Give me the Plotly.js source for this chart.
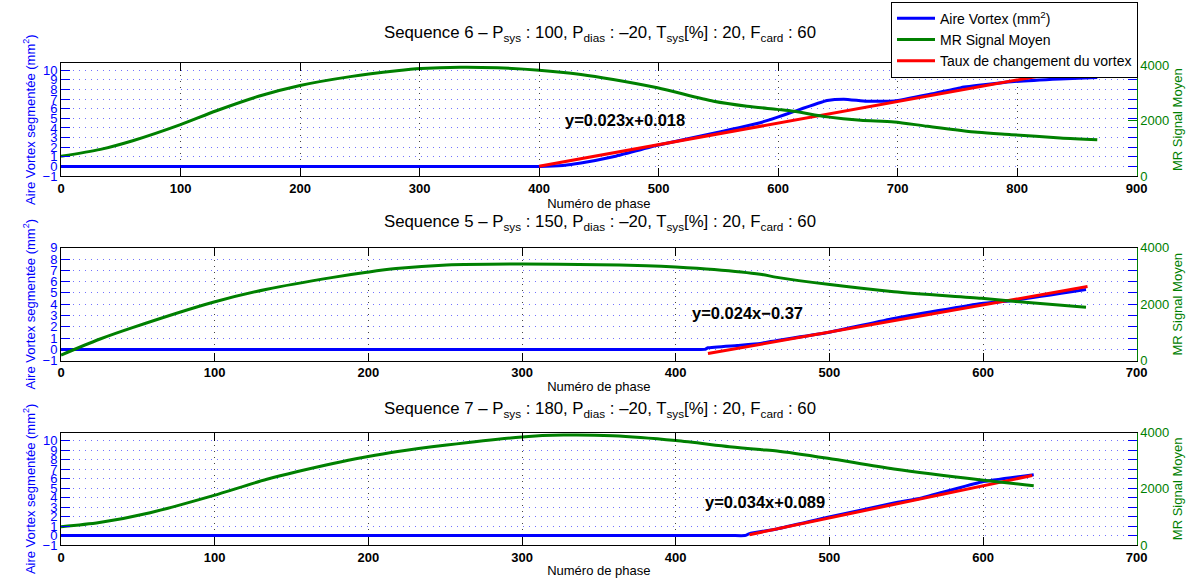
<!DOCTYPE html>
<html>
<head>
<meta charset="utf-8">
<script src="https://cdn.plot.ly/plotly-3.0.1.min.js"></script>
<style>html,body{margin:0;padding:0;background:#fff;}#chart{width:1191px;height:587px;}</style>
</head>
<body>
<div id="chart"></div>
<script>
// ---------- Data ----------
// Sequence 6 (top panel)
const seq6AreaX = [0, 390, 400, 420, 435, 462, 499, 546, 585, 599, 613, 641, 655, 674, 697, 725, 753, 795, 836, 867];
const seq6Area  = [0, 0, 0, 0.1, 0.35, 1.0, 2.2, 3.45, 4.55, 5.1, 5.7, 6.85, 7.0, 6.78, 6.8, 7.45, 8.2, 8.8, 9.1, 9.25];
const seq6SigX  = [0, 33, 60, 100, 130, 166, 200, 242, 281, 301, 334, 365, 400, 435, 462, 499, 546, 574, 599, 613, 641, 669, 697, 725, 767, 795, 836, 867];
const seq6Sig   = [707, 960, 1270, 1850, 2350, 2880, 3260, 3580, 3790, 3870, 3920, 3900, 3812, 3657, 3476, 3177, 2693, 2513, 2400, 2332, 2130, 2007, 1949, 1790, 1574, 1490, 1372, 1310];
const seq6FitX  = [400, 867];
const seq6Fit   = [0.018, 10.5];

// Sequence 5 (middle panel)
const seq5AreaX = [0, 410, 419, 421, 440, 455, 466, 499, 542, 599, 618, 667];
const seq5Area  = [0, 0, 0, 0.14, 0.35, 0.53, 0.8, 1.5, 2.74, 4.07, 4.3, 5.3];
const seq5SigX  = [0, 25, 47, 99, 134, 177, 199, 218, 251, 300, 350, 381, 400, 425, 455, 466, 499, 542, 599, 618, 667];
const seq5Sig   = [200, 760, 1180, 2070, 2530, 2950, 3130, 3260, 3388, 3423, 3400, 3365, 3320, 3230, 3060, 2950, 2704, 2443, 2209, 2113, 1890];
const seq5FitX  = [421, 668];
const seq5Fit   = [-0.37, 5.56];

// Sequence 7 (bottom panel)
const seq7AreaX = [0, 436, 445, 448, 466, 499, 542, 560, 599, 633];
const seq7Area  = [0, 0, 0, 0.2, 0.7, 1.93, 3.44, 3.97, 5.65, 6.42];
const seq7SigX  = [0, 25, 58, 99, 134, 177, 199, 218, 251, 300, 327, 359, 400, 435, 455, 466, 499, 542, 599, 633];
const seq7Sig   = [650, 800, 1150, 1760, 2340, 2900, 3140, 3320, 3560, 3850, 3915, 3890, 3720, 3501, 3400, 3350, 3088, 2707, 2315, 2113];
const seq7FitX  = [448, 632];
const seq7Fit   = [0.089, 6.35];

// Titles / labels
const panelTitles = [
  'Sequence 6 – P<sub>sys</sub> : 100, P<sub>dias</sub> : –20, T<sub>sys</sub>[%] : 20, F<sub>card</sub> : 60',
  'Sequence 5 – P<sub>sys</sub> : 150, P<sub>dias</sub> : –20, T<sub>sys</sub>[%] : 20, F<sub>card</sub> : 60',
  'Sequence 7 – P<sub>sys</sub> : 180, P<sub>dias</sub> : –20, T<sub>sys</sub>[%] : 20, F<sub>card</sub> : 60'
];
const fitLabels = ['y=0.023x+0.018', 'y=0.024x−0.37', 'y=0.034x+0.089'];
const fitLabelPos = [[472, 4.84], [447, 3.2], [458, 3.58]];
const seriesNames = ['Aire Vortex (mm<sup>2</sup>)', 'MR Signal Moyen', 'Taux de changement du vortex'];
const xTitle = 'Numéro de phase';
const yLeftTitle = 'Aire Vortex segmentée (mm<sup>2</sup>)';
const yRightTitle = 'MR Signal Moyen';
const leftTicks9 = [-1,0,1,2,3,4,5,6,7,8,9];
const leftTicks10 = [-1,0,1,2,3,4,5,6,7,8,9,10];
const rightTicks = [0, 2000, 4000];

// ---------- Styling ----------
const BLUE = '#0000ff', GREEN = '#008000', RED = '#ff0000';
const FONT = 'Liberation Sans, Arial, Helvetica, sans-serif';
const W = 1191, H = 587;
const xDom = [61 / W, 1136.7 / W];
const py = (top, bot) => [1 - bot / H, 1 - top / H];
const doms = [py(63.3, 176), py(247.7, 360.7), py(432.7, 545)];

const panels = [
  {ax: 'x', ly: 'y', ry: 'y2', by: 'y7', aX: seq6AreaX, a: seq6Area, sX: seq6SigX, s: seq6Sig, fX: seq6FitX, f: seq6Fit, leg: true},
  {ax: 'x2', ly: 'y3', ry: 'y4', by: 'y8', aX: seq5AreaX, a: seq5Area, sX: seq5SigX, s: seq5Sig, fX: seq5FitX, f: seq5Fit, leg: false},
  {ax: 'x3', ly: 'y5', ry: 'y6', by: 'y9', aX: seq7AreaX, a: seq7Area, sX: seq7SigX, s: seq7Sig, fX: seq7FitX, f: seq7Fit, leg: false}
];

const traces = [];
panels.forEach(p => {
  traces.push({x: p.aX, y: p.a, xaxis: p.ax, yaxis: p.ly, type: 'scatter', mode: 'lines', name: seriesNames[0],
    line: {color: BLUE, width: 3, shape: 'spline', smoothing: 0.4}, showlegend: p.leg, legendrank: 1});
  traces.push({x: p.sX, y: p.s, xaxis: p.ax, yaxis: p.ry, type: 'scatter', mode: 'lines', name: seriesNames[1],
    line: {color: GREEN, width: 3, shape: 'spline', smoothing: 0.8}, showlegend: p.leg, legendrank: 2});
  traces.push({x: p.fX, y: p.f, xaxis: p.ax, yaxis: p.ly, type: 'scatter', mode: 'lines', name: seriesNames[2],
    line: {color: RED, width: 3}, showlegend: p.leg, legendrank: 3});
  traces.push({x: [], y: [], xaxis: p.ax, yaxis: p.by, type: 'scatter', mode: 'lines', showlegend: false, hoverinfo: 'skip'});
});

function xAxis(anchor, maxX) {
  return {
    domain: xDom, anchor: anchor, range: [0, maxX], dtick: 100, tick0: 0,
    ticks: 'inside', ticklen: 8, tickcolor: '#000', tickwidth: 1,
    showline: true, linecolor: '#000', linewidth: 1, mirror: 'ticks',
    showgrid: true, gridcolor: '#444', griddash: '1px,5px', gridwidth: 1, zeroline: false,
    tickfont: {family: FONT, size: 13, color: '#000', weight: 'bold'},
    title: {text: xTitle, font: {family: FONT, size: 13, color: '#000'}, standoff: 2},
    fixedrange: true
  };
}
function yLeft(anchor, dom, range, ticks) {
  return {
    domain: dom, anchor: anchor, range: range, tickvals: ticks,
    ticks: 'inside', ticklen: 9, tickcolor: BLUE, tickwidth: 1,
    showline: true, linecolor: '#000', linewidth: 1,
    showgrid: true, gridcolor: '#7373ff', griddash: '1px,5px', gridwidth: 1, zeroline: false,
    tickfont: {family: FONT, size: 13, color: BLUE},
    title: {text: yLeftTitle, font: {family: FONT, size: 13, color: BLUE}, standoff: 4},
    fixedrange: true
  };
}
function yRight(over, anchor, range) {
  return {
    overlaying: over, side: 'right', anchor: anchor, range: range, tickvals: rightTicks,
    ticks: 'inside', ticklen: 9, tickcolor: GREEN, tickwidth: 1,
    showline: true, linecolor: GREEN, linewidth: 1,
    showgrid: false, zeroline: false,
    tickfont: {family: FONT, size: 13, color: GREEN},
    title: {text: yRightTitle, font: {family: FONT, size: 13, color: GREEN}, standoff: 4},
    fixedrange: true
  };
}
function yBlueMirror(over, anchor, range, ticks) {
  return {
    overlaying: over, side: 'right', anchor: anchor, range: range, tickvals: ticks,
    ticks: 'inside', ticklen: 9, tickcolor: BLUE, tickwidth: 1,
    showticklabels: false, showline: false, showgrid: false, zeroline: false, fixedrange: true
  };
}

const r1 = [-1, 10.73], r3 = [-1, 9], r5 = [-1, 10.87];
const layout = {
  width: W, height: H,
  margin: {l: 0, r: 0, t: 0, b: 0, pad: 0},
  paper_bgcolor: '#fff', plot_bgcolor: 'rgba(0,0,0,0)',
  font: {family: FONT, size: 13, color: '#000'},
  showlegend: true,
  legend: {
    x: 1138 / W, xanchor: 'right', y: 1 - 1.7 / H, yanchor: 'top',
    bgcolor: '#fff', bordercolor: '#000', borderwidth: 1,
    font: {family: FONT, size: 14, color: '#000'}, itemwidth: 38,
    tracegroupgap: 0, traceorder: 'normal'
  },
  xaxis: xAxis('y', 900),
  yaxis: yLeft('x', doms[0], r1, leftTicks10),
  yaxis2: yRight('y', 'x', [0, 4060]),
  yaxis7: yBlueMirror('y', 'x', r1, leftTicks10),
  xaxis2: xAxis('y3', 700),
  yaxis3: yLeft('x2', doms[1], r3, leftTicks9),
  yaxis4: yRight('y3', 'x2', [0, 4000]),
  yaxis8: yBlueMirror('y3', 'x2', r3, leftTicks9),
  xaxis3: xAxis('y5', 700),
  yaxis5: yLeft('x3', doms[2], r5, leftTicks10),
  yaxis6: yRight('y5', 'x3', [0, 4000]),
  yaxis9: yBlueMirror('y5', 'x3', r5, leftTicks10),
  annotations: []
};

const titleY = [33, 223, 409];
panelTitles.forEach((t, i) => {
  layout.annotations.push({text: t, xref: 'paper', yref: 'paper', x: 599.5 / W, y: 1 - titleY[i] / H,
    xanchor: 'center', yanchor: 'middle', showarrow: false, font: {family: FONT, size: 16.8, color: '#000'}});
});
const fitRefs = [['x', 'y'], ['x2', 'y3'], ['x3', 'y5']];
fitLabels.forEach((t, i) => {
  layout.annotations.push({text: '<b>' + t + '</b>', xref: fitRefs[i][0], yref: fitRefs[i][1],
    x: fitLabelPos[i][0], y: fitLabelPos[i][1], xanchor: 'center', yanchor: 'middle', showarrow: false,
    font: {family: FONT, size: 16.5, color: '#000'}});
});

Plotly.newPlot('chart', traces, layout, {staticPlot: true, displayModeBar: false});
</script>
</body>
</html>
